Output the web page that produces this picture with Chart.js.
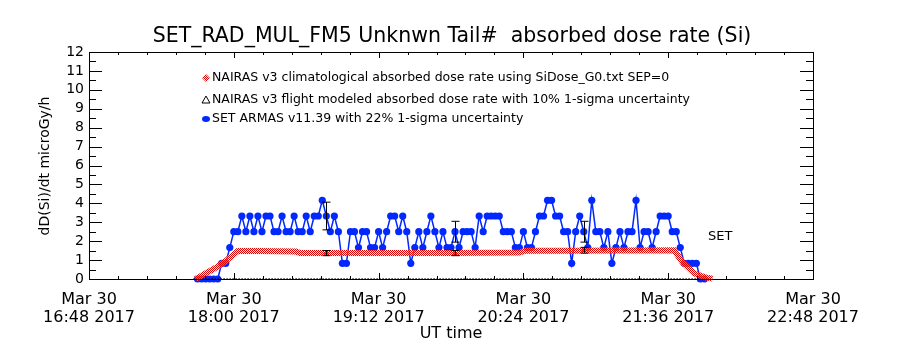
<!DOCTYPE html>
<html>
<head>
<meta charset="utf-8">
<script src="https://cdn.jsdelivr.net/npm/chart.js@4/dist/chart.umd.min.js"></script>
<style>
  html, body { margin: 0; padding: 0; background: #fff; }
  #wrap { width: 900px; height: 350px; position: relative; }
</style>
</head>
<body>
<div id="wrap"><canvas id="doseChart" width="900" height="350"></canvas></div>
<script>
// x axis is minutes after midnight UT (Mar 30 2017)
const xTickTimes = ['16:48', '18:00', '19:12', '20:24', '21:36', '22:48'];
const yTickValues = [0, 1, 2, 3, 4, 5, 6, 7, 8, 9, 10, 11, 12];

// SET ARMAS dose rate, one sample every 2 min starting 17:42
const armasStart = '17:42';
const armasStepMin = 2;
const armasValues = [
  0, 0, 0, 0, 0, 0, 0.83, 0.83, 1.66, 2.5,
  2.5, 3.33, 2.5, 3.33, 2.5, 3.33, 2.5, 3.33, 3.33, 2.5,
  2.5, 3.33, 2.5, 2.5, 3.33, 2.5, 2.5, 3.33, 2.5, 3.33,
  3.33, 4.16, 3.33, 2.5, 3.33, 2.5, 0.83, 0.83, 2.5, 2.5,
  1.66, 2.5, 2.5, 1.66, 1.66, 2.5, 1.66, 2.5, 3.33, 3.33,
  2.5, 3.33, 2.5, 0.83, 1.66, 2.5, 1.66, 2.5, 3.33, 2.5,
  1.66, 2.5, 1.66, 1.66, 2.5, 1.66, 2.5, 2.5, 2.5, 1.66,
  3.33, 2.5, 3.33, 3.33, 3.33, 3.33, 2.5, 2.5, 2.5, 1.66,
  1.66, 2.5, 1.66, 1.66, 2.5, 3.33, 3.33, 4.16, 4.16, 3.33,
  3.33, 2.5, 2.5, 0.83, 2.5, 3.33, 2.5, 1.66, 4.16, 2.5,
  2.5, 1.66, 2.5, 0.83, 1.66, 2.5, 1.66, 2.5, 2.5, 4.16,
  1.66, 2.5, 2.5, 1.66, 2.5, 3.33, 3.33, 3.33, 2.5, 2.5,
  1.66, 0.83, 0.83, 0.83, 0.83, 0, 0
];
// samples that carry the 22% 1-sigma bar
const armasErrIndex = [32, 64, 96];
const armasSigma = 0.22;

// NAIRAS v3 climatological (SiDose_G0.txt, SEP=0)
const climTimes = ['17:41', '17:46', '17:51', '17:56', '18:02', '18:13', '18:31', '18:33',
  '18:58', '19:48', '20:22', '20:25', '20:43', '21:39', '21:43', '21:49', '21:54', '21:58'];
const climValues = [0, 0.3, 0.6, 0.95, 1.48, 1.48, 1.45, 1.37,
  1.37, 1.37, 1.4, 1.5, 1.5, 1.52, 0.9, 0.3, 0.1, 0.02];

// NAIRAS v3 flight modeled points (10% 1-sigma)
const flightTimes = ['18:46', '19:50', '20:54'];
const flightValues = [1.37, 1.37, 1.52];
const flightSigma = 0.10;
const flightBaseTimes = ['17:40', '21:58'];
const flightBaseValues = [0, 0];

const FONT = '"DejaVu Sans", sans-serif';
const BLUE = '#0028ff';

function toMin(hhmm) {
    const p = hhmm.split(':');
    return Number(p[0]) * 60 + Number(p[1]);
}
function fmtMin(m) {
    const h = Math.floor(m / 60), mm = Math.round(m % 60);
    return String(h).padStart(2, '0') + ':' + String(mm).padStart(2, '0');
}

const armasPoints = armasValues.map((v, i) => ({ x: toMin(armasStart) + i * armasStepMin, y: v }));
const climPoints = climTimes.map((t, i) => ({ x: toMin(t), y: climValues[i] }));
const flightPoints = flightTimes.map((t, i) => ({ x: toMin(t), y: flightValues[i] }));
const flightBase = flightBaseTimes.map((t, i) => ({ x: toMin(t), y: flightBaseValues[i] }));

// checkered red like the IDL hatched band
function checker(c1, c2) {
    const c = document.createElement('canvas');
    c.width = 2; c.height = 2;
    const g = c.getContext('2d');
    g.fillStyle = c2; g.fillRect(0, 0, 2, 2);
    g.fillStyle = c1; g.fillRect(0, 0, 1, 1); g.fillRect(1, 1, 1, 1);
    return g.createPattern(c, 'repeat');
}
const redHatch = checker('#e00000', 'rgba(255,215,215,0.5)');

// box, inward ticks, error bars
const idlFrame = {
    id: 'idlFrame',
    afterDatasetsDraw(chart) {
        const ctx = chart.ctx, a = chart.chartArea;
        const xs = chart.scales.x, ys = chart.scales.y;
        ctx.save();
        ctx.strokeStyle = '#000';
        ctx.lineWidth = 1;
        ctx.strokeRect(a.left + 0.5, a.top + 0.5, a.right - a.left, a.bottom - a.top);
        ctx.beginPath();
        // y ticks both sides
        for (let v = 0; v <= 12; v += 0.5) {
            const y = Math.round(ys.getPixelForValue(v)) + 0.5;
            const len = (v % 1 === 0) ? 13 : 7;
            ctx.moveTo(a.left, y); ctx.lineTo(a.left + len, y);
            ctx.moveTo(a.right, y); ctx.lineTo(a.right - len, y);
        }
        // x ticks top and bottom, 4 minor per major
        const x0 = toMin(xTickTimes[0]);
        for (let k = 0; k <= 25; k++) {
            const x = Math.round(xs.getPixelForValue(x0 + k * 14.4)) + 0.5;
            const len = (k % 5 === 0) ? 6 : 3;
            ctx.moveTo(x, a.bottom); ctx.lineTo(x, a.bottom - len);
            ctx.moveTo(x, a.top); ctx.lineTo(x, a.top + len);
        }
        ctx.stroke();

        // error bars
        function bar(t, v, s) {
            const x = Math.round(xs.getPixelForValue(t)) + 0.5;
            const yt = ys.getPixelForValue(v * (1 + s));
            const yb = ys.getPixelForValue(v * (1 - s));
            ctx.beginPath();
            ctx.moveTo(x, yt); ctx.lineTo(x, yb);
            ctx.moveTo(x - 4, yt); ctx.lineTo(x + 4, yt);
            ctx.moveTo(x - 4, yb); ctx.lineTo(x + 4, yb);
            ctx.stroke();
        }
        armasErrIndex.forEach(i => bar(armasPoints[i].x, armasPoints[i].y, armasSigma));
        flightPoints.forEach(p => bar(p.x, p.y, flightSigma));
        ctx.restore();
    },
    afterDraw(chart) {
        const ctx = chart.ctx, a = chart.chartArea;
        ctx.save();
        ctx.fillStyle = '#000';
        ctx.textBaseline = 'middle';

        // title
        ctx.font = '20.5px ' + FONT;
        ctx.textAlign = 'center';
        ctx.fillText('SET_RAD_MUL_FM5 Unknwn Tail#  absorbed dose rate (Si)', 452, 37);

        // axis titles
        ctx.font = '16px ' + FONT;
        ctx.fillText('UT time', (a.left + a.right) / 2, 334);
        ctx.save();
        ctx.translate(45, 166);
        ctx.rotate(-Math.PI / 2);
        ctx.font = '14px ' + FONT;
        ctx.fillText('dD(Si)/dt microGy/h', 0, 0);
        ctx.restore();

        // SET label
        ctx.textAlign = 'left';
        ctx.font = '13px ' + FONT;
        ctx.fillText('SET', 708, 237);

        // legend
        const legendRows = [
            { y: 78, text: 'NAIRAS v3 climatological absorbed dose rate using SiDose_G0.txt SEP=0', mark: 'diamond' },
            { y: 100, text: 'NAIRAS v3 flight modeled absorbed dose rate with 10% 1-sigma uncertainty', mark: 'triangle' },
            { y: 119, text: 'SET ARMAS v11.39 with 22% 1-sigma uncertainty', mark: 'dot' }
        ];
        ctx.font = '12.5px ' + FONT;
        legendRows.forEach(r => {
            const mx = 206, my = r.y;
            ctx.beginPath();
            if (r.mark === 'diamond') {
                ctx.moveTo(mx, my - 4); ctx.lineTo(mx + 4, my); ctx.lineTo(mx, my + 4); ctx.lineTo(mx - 4, my);
                ctx.closePath();
                ctx.fillStyle = redHatch; ctx.fill();
            } else if (r.mark === 'triangle') {
                ctx.moveTo(mx, my - 4); ctx.lineTo(mx + 4, my + 3); ctx.lineTo(mx - 4, my + 3);
                ctx.closePath();
                ctx.strokeStyle = '#000'; ctx.lineWidth = 1; ctx.stroke();
            } else {
                ctx.ellipse(mx, my, 4, 3, 0, 0, Math.PI * 2);
                ctx.fillStyle = BLUE; ctx.fill();
            }
            ctx.fillStyle = '#000';
            ctx.fillText(r.text, 212, r.y);
        });
        ctx.restore();
    }
};

const chart = new Chart(document.getElementById('doseChart'), {
    type: 'line',
    data: {
        datasets: [
            {
                label: 'NAIRAS v3 climatological',
                data: climPoints,
                borderColor: redHatch,
                borderWidth: 6,
                pointRadius: 0,
                tension: 0,
                clip: false
            },
            {
                label: 'NAIRAS v3 flight modeled baseline',
                data: flightBase,
                borderColor: '#000',
                borderWidth: 2,
                borderDash: [1, 2],
                pointRadius: 0,
                clip: false
            },
            {
                label: 'SET ARMAS v11.39',
                data: armasPoints,
                borderColor: BLUE,
                backgroundColor: BLUE,
                borderWidth: 1.5,
                pointRadius: 3.6,
                pointBorderWidth: 0,
                tension: 0,
                clip: false
            },
            {
                label: 'NAIRAS v3 flight modeled',
                data: flightPoints,
                showLine: false,
                pointStyle: 'triangle',
                pointRadius: 2.5,
                borderColor: '#000',
                backgroundColor: '#000',
                borderWidth: 1,
                clip: false
            }
        ]
    },
    options: {
        responsive: false,
        animation: false,
        devicePixelRatio: 1,
        layout: { padding: { left: 0, top: 52, right: 87, bottom: 0 } },
        plugins: {
            legend: { display: false },
            tooltip: { enabled: false }
        },
        scales: {
            x: {
                type: 'linear',
                min: toMin(xTickTimes[0]),
                max: toMin(xTickTimes[xTickTimes.length - 1]),
                afterBuildTicks: function(scale) {
                    scale.ticks = xTickTimes.map(t => ({ value: toMin(t) }));
                },
                afterFit: function(scale) { scale.height = 71; },
                grid: { display: false, drawTicks: false },
                border: { display: false },
                ticks: {
                    autoSkip: false,
                    maxRotation: 0,
                    padding: 12,
                    color: '#000',
                    font: { family: FONT, size: 16, lineHeight: 1.1 },
                    callback: function(value) {
                        return ['Mar 30', fmtMin(value) + ' 2017'];
                    }
                }
            },
            y: {
                min: 0,
                max: 12,
                afterBuildTicks: function(scale) {
                    scale.ticks = yTickValues.map(v => ({ value: v }));
                },
                afterFit: function(scale) { scale.width = 89; },
                grid: { display: false, drawTicks: false },
                border: { display: false },
                ticks: {
                    autoSkip: false,
                    padding: 5,
                    color: '#000',
                    font: { family: FONT, size: 14 }
                }
            }
        }
    },
    plugins: [idlFrame]
});
</script>
</body>
</html>
